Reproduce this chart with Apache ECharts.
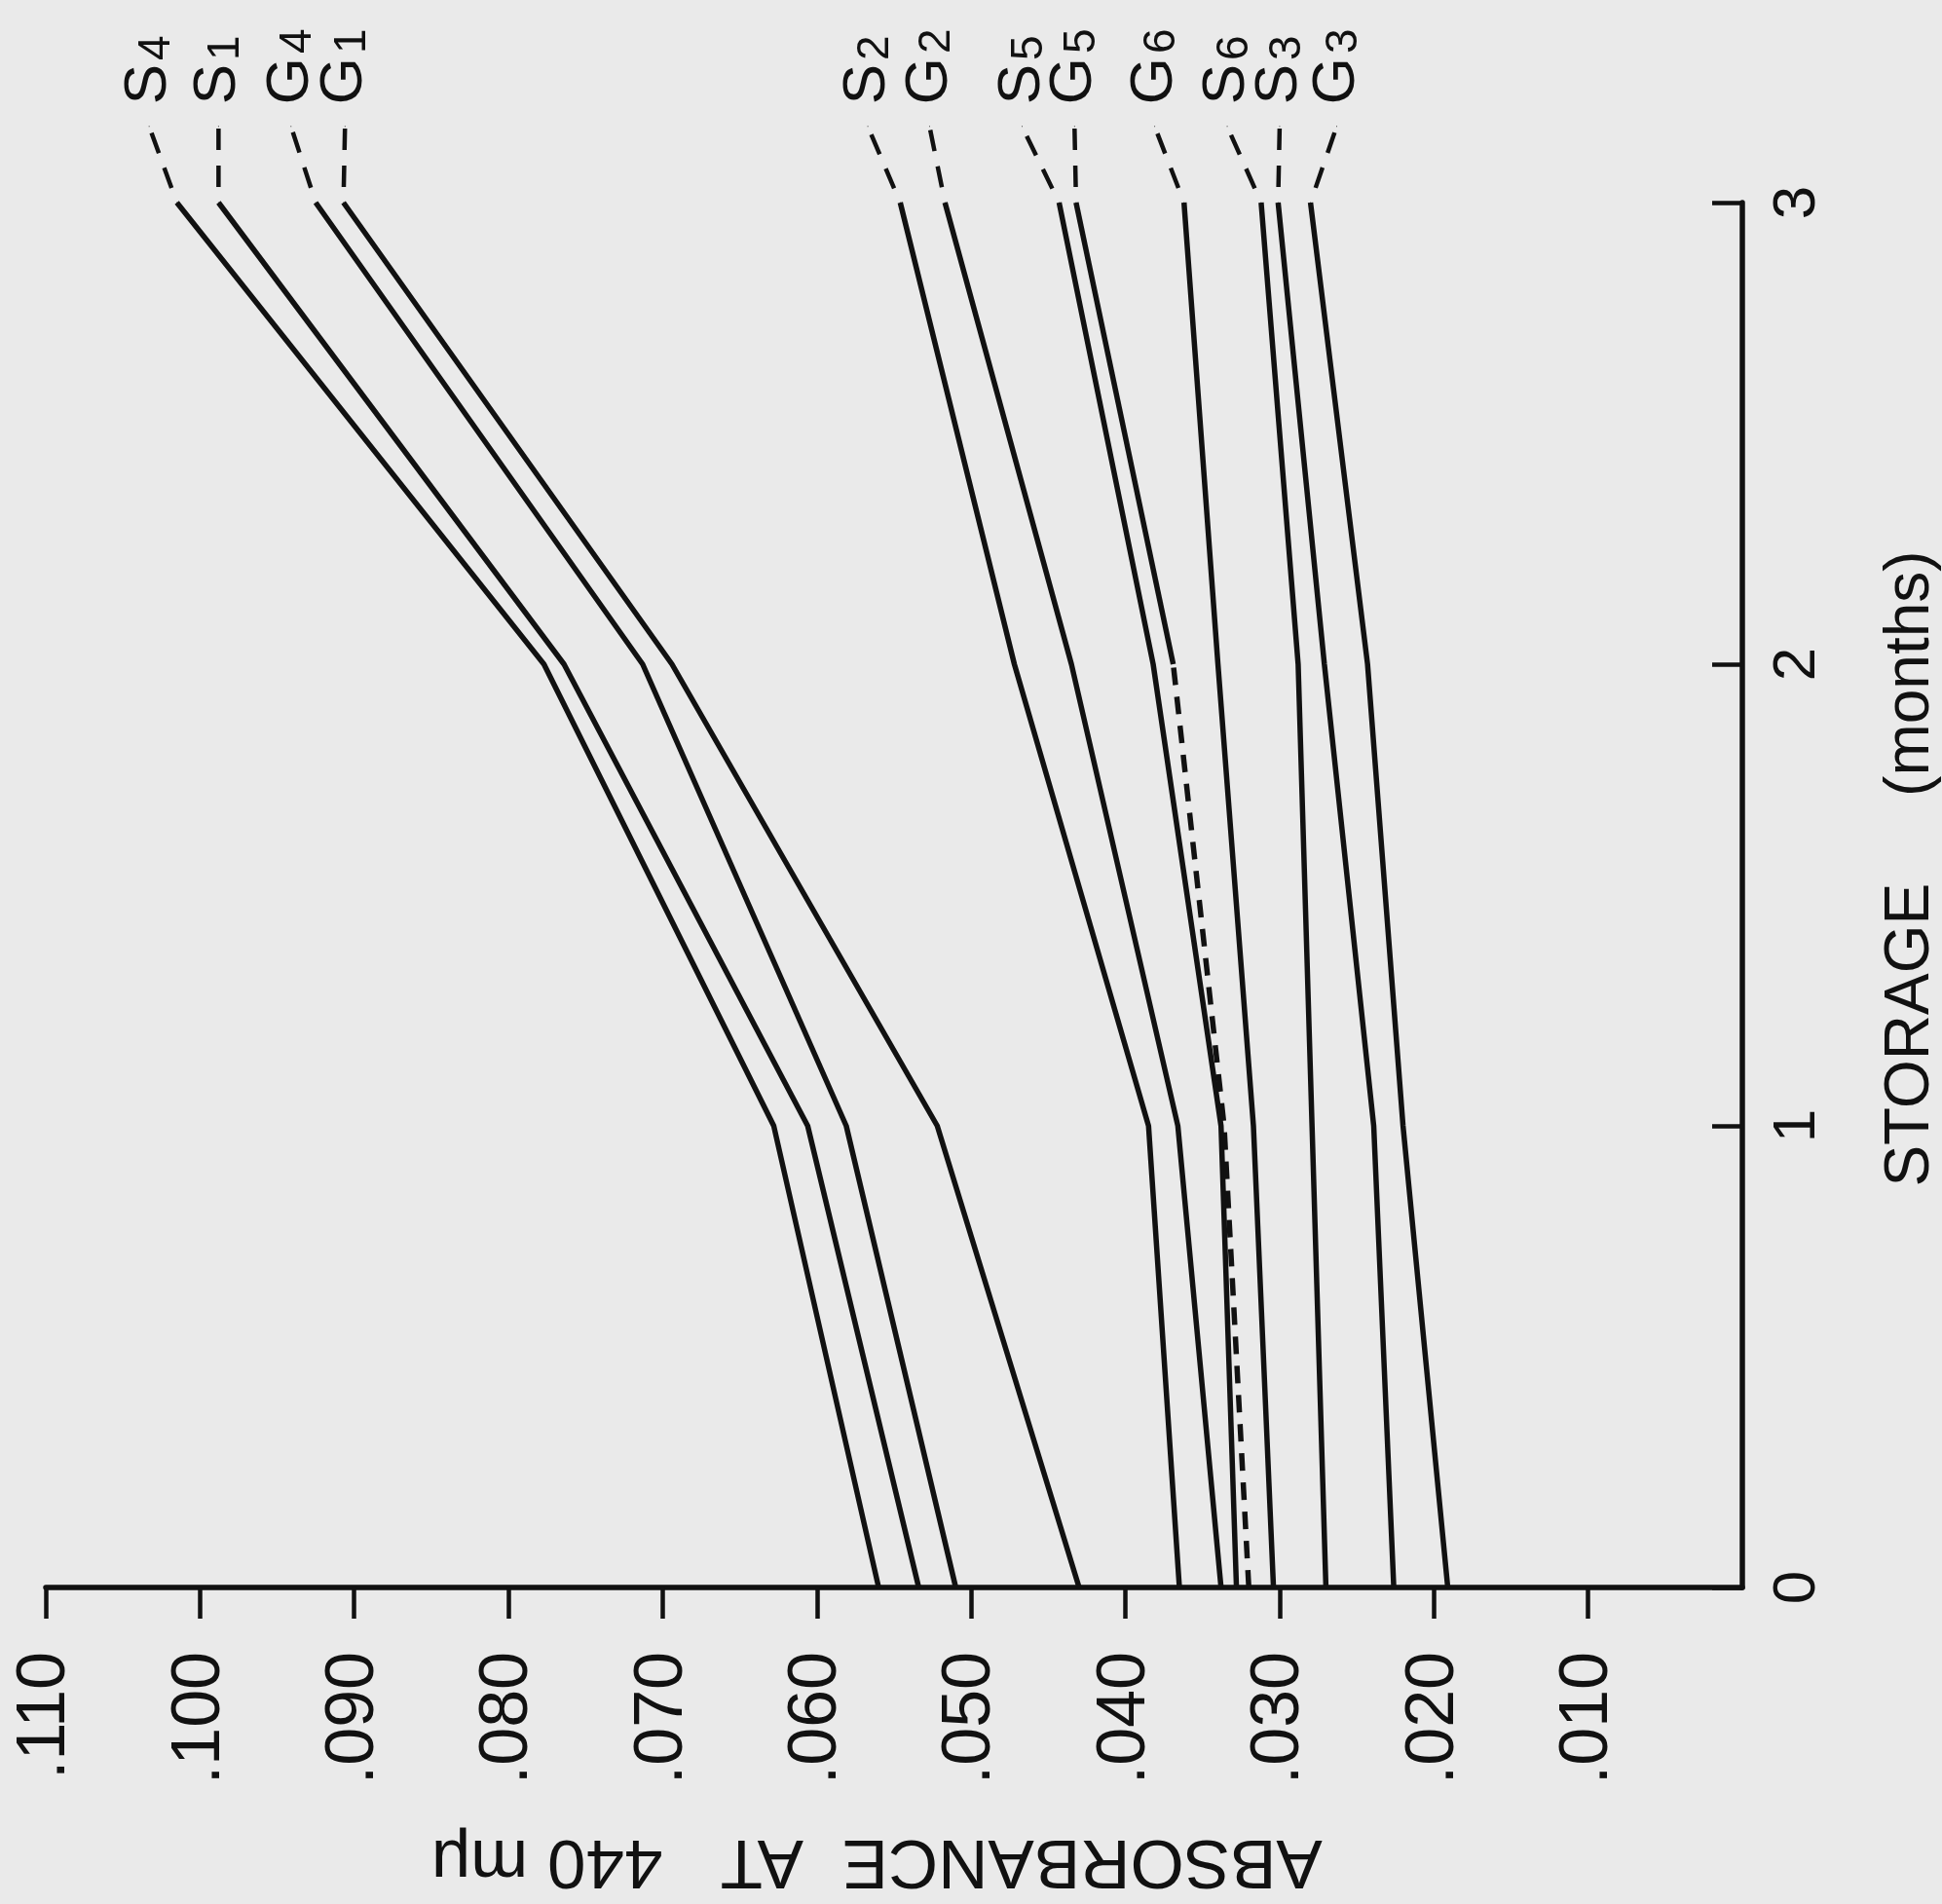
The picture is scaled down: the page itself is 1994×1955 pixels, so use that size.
<!DOCTYPE html>
<html>
<head>
<meta charset="utf-8">
<title>Absorbance at 440 mμ during storage</title>
<script src="https://cdn.jsdelivr.net/npm/echarts@6/dist/echarts.min.js"></script>
<style>
  html, body { margin: 0; padding: 0; background: #eaeaea; }
  #chart { width: 1994px; height: 1955px; }
</style>
</head>
<body>
<div id="chart"></div>
<script>
  // storage time in months
  var months = [0, 1, 2, 3];

  // absorbance at 440 mμ for each sample, one value per month
  var s4 = [0.0560, 0.0628, 0.0777, 0.1015];
  var s1 = [0.0534, 0.0606, 0.0764, 0.0988];
  var g4 = [0.0510, 0.0581, 0.0713, 0.0925];
  var g1 = [0.0430, 0.0522, 0.0694, 0.0907];
  var s2 = [0.0365, 0.0385, 0.0472, 0.0546];
  var g2 = [0.0338, 0.0366, 0.0435, 0.0517];
  var s5 = [0.0328, 0.0338, 0.0382, 0.0443];
  var g5 = [0.0320, 0.0336, 0.0369, 0.0432]; // 0-2 months drawn dashed
  var g6 = [0.0304, 0.0317, 0.0340, 0.0362];
  var s6 = [0.0270, 0.0279, 0.0288, 0.0312];
  var s3 = [0.0226, 0.0239, 0.0271, 0.0301];
  var g3 = [0.0191, 0.0220, 0.0243, 0.0280];

  // labels at the top, left to right, and where their dashed leaders end
  var seriesNames = ['S4', 'S1', 'G4', 'G1', 'S2', 'G2', 'S5', 'G5', 'G6', 'S6', 'S3', 'G3'];
  var leaderTips = [0.1033, 0.0988, 0.0941, 0.0906, 0.0567, 0.0527, 0.0467, 0.0433, 0.0381, 0.0334, 0.0300, 0.0263];
  var leaderMonth = 3.165;

  // absorbance ticks (.010 ... .110)
  var absTicks = [0.01, 0.02, 0.03, 0.04, 0.05, 0.06, 0.07, 0.08, 0.09, 0.10, 0.11];

  var curves = {
    S4: s4, S1: s1, G4: g4, G1: g1, S2: s2, G2: g2,
    S5: s5, G5: g5, G6: g6, S6: s6, S3: s3, G3: g3
  };

  var ink = '#111';
  var font = 'Liberation Sans';

  function points(vals, start, end) {
    var out = [];
    for (var i = start; i < end; i++) {
      out.push([vals[i], months[i]]);
    }
    return out;
  }

  function lineSeries(name, data, dashed) {
    return {
      type: 'line',
      name: name,
      data: data,
      showSymbol: false,
      clip: false,
      silent: true,
      lineStyle: { color: ink, width: dashed ? 5.5 : 5.5, type: dashed ? [18, 12] : 'solid' },
      z: 3
    };
  }

  var series = [];
  seriesNames.forEach(function (name, k) {
    var vals = curves[name];
    if (name === 'G5') {
      series.push(lineSeries(name + ' (0-2)', points(vals, 0, 3), true));
      series.push(lineSeries(name, points(vals, 2, 4), false));
    } else {
      series.push(lineSeries(name, points(vals, 0, 4), false));
    }
    // dashed leader from the 3-month end up to the label
    series.push({
      type: 'line',
      name: name + ' label',
      clip: false,
      silent: true,
      symbol: 'circle',
      symbolSize: 1,
      itemStyle: { color: ink },
      lineStyle: { color: ink, width: 4.5, type: [22, 16], dashOffset: 22 },
      data: [
        [vals[3], 3],
        {
          value: [leaderTips[k], leaderMonth],
          label: {
            show: true,
            position: 'top',
            distance: 22,
            rotate: 90,
            align: 'left',
            verticalAlign: 'middle',
            formatter: '{a|' + name.charAt(0) + '}{b|' + name.slice(1) + '}',
            rich: {
              a: { fontSize: 62, fontFamily: font, color: ink, verticalAlign: 'top', lineHeight: 62, padding: [0, 4, 0, 0] },
              b: { fontSize: 46, fontFamily: font, color: ink, verticalAlign: 'bottom', lineHeight: 44 }
            }
          }
        }
      ],
      z: 3
    });
  });

  var chart = echarts.init(document.getElementById('chart'));
  chart.setOption({
    backgroundColor: '#eaeaea',
    animation: false,
    grid: { left: 47, right: 205, top: 208, bottom: 325 },
    xAxis: {
      type: 'value',
      inverse: true,
      min: 0,
      max: 0.11,
      interval: 0.01,
      position: 'bottom',
      axisLine: { show: true, onZero: false, lineStyle: { color: ink, width: 5.5 } },
      axisTick: { show: true, customValues: absTicks, length: 32, lineStyle: { color: ink, width: 4.5 } },
      axisLabel: {
        customValues: absTicks,
        rotate: 90,
        margin: 66,
        fontSize: 70,
        fontFamily: font,
        color: ink,
        formatter: function (v) {
          return '.' + String(Math.round(v * 1000)).padStart(3, '0');
        }
      },
      splitLine: { show: false }
    },
    yAxis: {
      type: 'value',
      min: 0,
      max: 3,
      interval: 1,
      position: 'right',
      axisLine: { show: true, onZero: false, lineStyle: { color: ink, width: 5.5 } },
      axisTick: { show: true, inside: true, length: 31, lineStyle: { color: ink, width: 4.5 } },
      axisLabel: { rotate: 90, margin: 26, fontSize: 62, fontFamily: font, color: ink },
      splitLine: { show: false }
    },
    graphic: [
      {
        type: 'text',
        x: 900,
        y: 1910,
        rotation: Math.PI,
        style: {
          text: 'ABSORBANCE  AT   440 mμ',
          fontSize: 71,
          fontFamily: font,
          fill: ink,
          align: 'center',
          verticalAlign: 'middle'
        }
      },
      {
        type: 'text',
        x: 1962,
        y: 892,
        rotation: Math.PI / 2,
        style: {
          text: 'STORAGE     (months)',
          fontSize: 64,
          fontFamily: font,
          fill: ink,
          align: 'center',
          verticalAlign: 'middle'
        }
      }
    ],
    series: series
  });
</script>
</body>
</html>
